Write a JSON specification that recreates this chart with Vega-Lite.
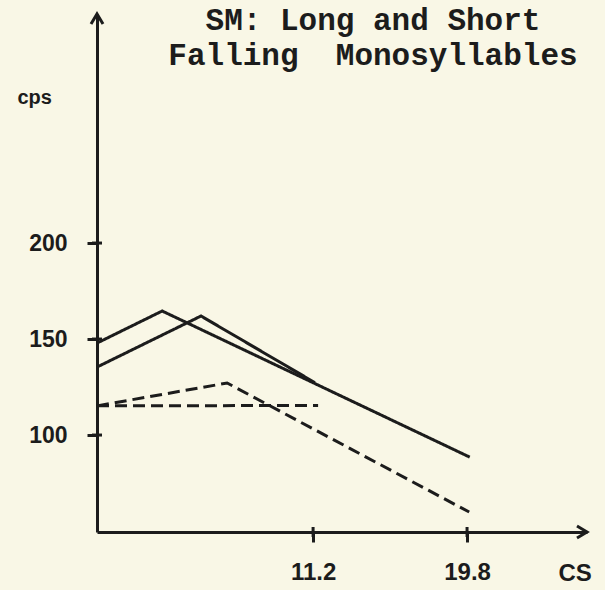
{
  "$schema": "https://vega.github.io/schema/vega-lite/v6.json",
  "width": 490,
  "height": 518,
  "autosize": {"type": "none"},
  "padding": {"left": 97, "top": 14, "right": 18, "bottom": 58},
  "background": "#f9f7e6",
  "title": {
    "text": ["SM: Long and Short", "Falling\u00a0\u00a0Monosyllables"],
    "font": "Liberation Mono",
    "fontSize": 31,
    "fontWeight": "bold",
    "color": "#1c1c1c",
    "anchor": "middle",
    "frame": "group",
    "dx": 31,
    "baseline": "alphabetic",
    "offset": -88,
    "lineHeight": 35
  },
  "config": {
    "view": {"stroke": null},
    "axis": {
      "grid": false,
      "domainColor": "#1c1c1c",
      "domainWidth": 3,
      "tickColor": "#1c1c1c",
      "tickWidth": 3,
      "tickSize": 10,
      "labelColor": "#1c1c1c",
      "labelFont": "Liberation Sans",
      "labelFontWeight": "bold",
      "titleColor": "#1c1c1c",
      "titleFont": "Liberation Sans",
      "titleFontWeight": "bold"
    }
  },
  "datasets": {
    "curves": [
      {"series": "long solid", "style": "solid", "cs": -0.87, "cps": 147.9},
      {"series": "long solid", "style": "solid", "cs": 2.77, "cps": 164.6},
      {"series": "long solid", "style": "solid", "cs": 19.95, "cps": 88.5},
      {"series": "short solid", "style": "solid", "cs": -0.87, "cps": 135.4},
      {"series": "short solid", "style": "solid", "cs": 4.94, "cps": 162.0},
      {"series": "short solid", "style": "solid", "cs": 11.3, "cps": 127.3},
      {"series": "long dashed", "style": "dashed", "cs": -0.87, "cps": 115.2},
      {"series": "long dashed", "style": "dashed", "cs": 6.4, "cps": 127.1},
      {"series": "long dashed", "style": "dashed", "cs": 19.92, "cps": 59.9},
      {"series": "short dashed", "style": "dashed", "cs": -0.87, "cps": 115.2},
      {"series": "short dashed", "style": "dashed", "cs": 11.48, "cps": 115.4}
    ],
    "yticks": [{"cps": 100}, {"cps": 150}, {"cps": 200}],
    "xticks": [{"cs": 11.2}, {"cs": 19.8}],
    "one": [{}]
  },
  "layer": [
    {
      "data": {"name": "curves"},
      "mark": {"type": "line", "strokeWidth": 3, "color": "#1c1c1c", "strokeCap": "butt", "strokeJoin": "miter"},
      "encoding": {
        "x": {
          "field": "cs",
          "type": "quantitative",
          "scale": {"domain": [-0.87, 26.5], "nice": false, "zero": false},
          "axis": {
            "values": [11.2, 19.8],
            "format": ".1f",
            "labelFontSize": 24,
            "labelPadding": 18,
            "title": "CS",
            "titleFontSize": 24,
            "titleAlign": "left",
            "titleAnchor": null,
            "titleX": 461,
            "titleY": 48,
            "titleBaseline": "alphabetic"
          }
        },
        "y": {
          "field": "cps",
          "type": "quantitative",
          "scale": {"domain": [49.5, 319.3], "nice": false, "zero": false},
          "axis": {
            "values": [100, 150, 200],
            "labelFontSize": 23,
            "labelPadding": 20,
            "title": "cps",
            "titleFontSize": 20,
            "titleAngle": 0,
            "titleAlign": "left",
            "titleAnchor": null,
            "titleX": -80,
            "titleY": 89,
            "titleBaseline": "alphabetic"
          }
        },
        "detail": {"field": "series"},
        "strokeDash": {
          "field": "style",
          "type": "nominal",
          "scale": {"domain": ["solid", "dashed"], "range": [[1, 0], [12, 6]]},
          "legend": null
        }
      }
    },
    {
      "data": {"name": "yticks"},
      "mark": {"type": "tick", "orient": "horizontal", "size": 10, "thickness": 3, "color": "#1c1c1c", "opacity": 1},
      "encoding": {
        "x": {"datum": -0.87, "type": "quantitative"},
        "y": {"field": "cps", "type": "quantitative"}
      }
    },
    {
      "data": {"name": "xticks"},
      "mark": {"type": "tick", "orient": "vertical", "size": 10, "thickness": 3, "color": "#1c1c1c", "opacity": 1},
      "encoding": {
        "x": {"field": "cs", "type": "quantitative"},
        "y": {"datum": 49.5, "type": "quantitative"}
      }
    },
    {
      "data": {"name": "one"},
      "mark": {"type": "point", "shape": "M -1 -0.6 L 0 0 L -1 0.6", "filled": false, "size": 400, "strokeWidth": 3, "color": "#1c1c1c", "opacity": 1, "strokeJoin": "miter"},
      "encoding": {
        "x": {"datum": 26.5, "type": "quantitative"},
        "y": {"datum": 49.5, "type": "quantitative"}
      }
    },
    {
      "data": {"name": "one"},
      "mark": {"type": "point", "shape": "M -0.6 1 L 0 0 L 0.6 1", "filled": false, "size": 400, "strokeWidth": 3, "color": "#1c1c1c", "opacity": 1, "strokeJoin": "miter"},
      "encoding": {
        "x": {"datum": -0.87, "type": "quantitative"},
        "y": {"datum": 319.3, "type": "quantitative"}
      }
    }
  ]
}
